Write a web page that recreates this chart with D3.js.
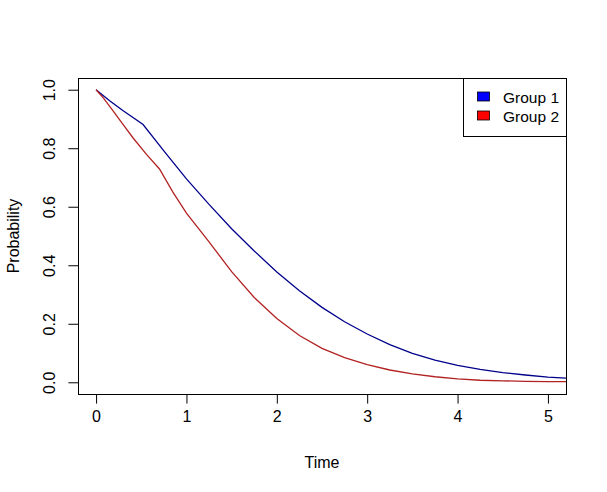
<!DOCTYPE html>
<html>
<head>
<meta charset="utf-8">
<script src="https://cdn.jsdelivr.net/npm/d3@7"></script>
<style>
  body { margin: 0; background: #fff; }
  text { font-family: "Liberation Sans", Arial, sans-serif; fill: #000; }
</style>
</head>
<body>
<main></main>
<script>
// data
const groups = ["Group 1", "Group 2"];
const lineColors = ["#00008B", "#B22222"];
const fillColors = ["#0000FF", "#FF0000"];

const time1 = [0, 0.15, 0.30, 0.52, 0.75, 1.0, 1.25, 1.5, 1.75, 2.0, 2.25, 2.5, 2.75, 3.0, 3.25, 3.5, 3.75, 4.0, 4.25, 4.5, 4.75, 5.0, 5.2];
const prob1 = [1.0, 0.962, 0.928, 0.881, 0.791, 0.695, 0.608, 0.525, 0.449, 0.377, 0.313, 0.256, 0.207, 0.165, 0.129, 0.099, 0.076, 0.058, 0.044, 0.033, 0.025, 0.018, 0.014];

const time2 = [0, 0.08, 0.19, 0.30, 0.41, 0.56, 0.70, 0.85, 1.0, 1.25, 1.5, 1.75, 2.0, 2.25, 2.5, 2.75, 3.0, 3.25, 3.5, 3.75, 4.0, 4.25, 4.5, 4.75, 5.0, 5.2];
const prob2 = [1.0, 0.972, 0.927, 0.881, 0.835, 0.778, 0.730, 0.650, 0.578, 0.480, 0.378, 0.290, 0.218, 0.160, 0.116, 0.084, 0.060, 0.042, 0.029, 0.019, 0.012, 0.007, 0.005, 0.003, 0.002, 0.002];

const xTicks = [0, 1, 2, 3, 4, 5];
const yTicks = [0, 0.2, 0.4, 0.6, 0.8, 1.0];

const W = 607, H = 492;
const margin = {top: 78, right: 41, bottom: 98, left: 78};
const pw = W - margin.left - margin.right,
      ph = H - margin.top - margin.bottom;

const svg = d3.select("main")
  .append("svg")
  .attr("width", W)
  .attr("height", H);

const x = d3.scaleLinear().domain([-0.2, 5.2]).range([margin.left, margin.left + pw]);
const y = d3.scaleLinear().domain([-0.04, 1.04]).range([margin.top + ph, margin.top]);

svg.append("clipPath")
  .attr("id", "clip")
  .append("rect")
  .attr("x", margin.left)
  .attr("y", margin.top)
  .attr("width", pw)
  .attr("height", ph);

// curves
const series = [
  time1.map((t, i) => [t, prob1[i]]),
  time2.map((t, i) => [t, prob2[i]])
];
const line = d3.line().x(d => x(d[0])).y(d => y(d[1]));

svg.append("g")
  .attr("clip-path", "url(#clip)")
  .selectAll("path")
  .data(series)
  .enter()
  .append("path")
  .attr("d", line)
  .attr("fill", "none")
  .attr("stroke", (d, i) => lineColors[i])
  .attr("stroke-width", 1.3);

// axes
const xAxis = svg.append("g")
  .attr("transform", "translate(0," + (margin.top + ph) + ")")
  .call(d3.axisBottom(x).tickValues(xTicks).tickFormat(d3.format("d")).tickSize(9.6).tickPadding(7));
xAxis.select(".domain").attr("stroke", "none");
xAxis.selectAll("text").attr("font-size", "16px").attr("fill", "#000");

const yAxis = svg.append("g")
  .attr("transform", "translate(" + margin.left + ",0)")
  .call(d3.axisLeft(y).tickValues(yTicks).tickFormat(d3.format(".1f")).tickSize(9.6));
yAxis.select(".domain").attr("stroke", "none");
yAxis.selectAll(".tick text")
  .attr("font-size", "16px")
  .attr("x", 0)
  .attr("dy", null)
  .attr("text-anchor", "middle")
  .attr("transform", "translate(-23,0) rotate(-90)");

// box
svg.append("rect")
  .attr("x", margin.left + 0.5)
  .attr("y", margin.top + 0.5)
  .attr("width", pw)
  .attr("height", ph)
  .attr("fill", "none")
  .attr("stroke", "#000");

// axis titles
svg.append("text")
  .attr("x", margin.left + pw / 2)
  .attr("y", 468)
  .attr("text-anchor", "middle")
  .attr("font-size", "16px")
  .text("Time");

svg.append("text")
  .attr("transform", "translate(18.5," + (margin.top + ph / 2) + ") rotate(-90)")
  .attr("text-anchor", "middle")
  .attr("font-size", "16px")
  .text("Probability");

// legend
const legend = svg.append("g").attr("id", "legend");
legend.append("rect")
  .attr("x", 463.5)
  .attr("y", margin.top + 0.5)
  .attr("width", margin.left + pw - 463)
  .attr("height", 58)
  .attr("fill", "#fff")
  .attr("stroke", "#000");

const items = legend.selectAll(".legend-item")
  .data(groups)
  .enter()
  .append("g")
  .attr("class", "legend-item")
  .attr("transform", (d, i) => "translate(0," + (i * 19) + ")");

items.append("rect")
  .attr("x", 477.5)
  .attr("y", 92)
  .attr("width", 12)
  .attr("height", 9)
  .attr("fill", (d, i) => fillColors[i])
  .attr("stroke", "#000")
  .attr("stroke-width", 0.8);

items.append("text")
  .attr("x", 503)
  .attr("y", 102.5)
  .attr("font-size", "15.5px")
  .text(d => d);
</script>
</body>
</html>
